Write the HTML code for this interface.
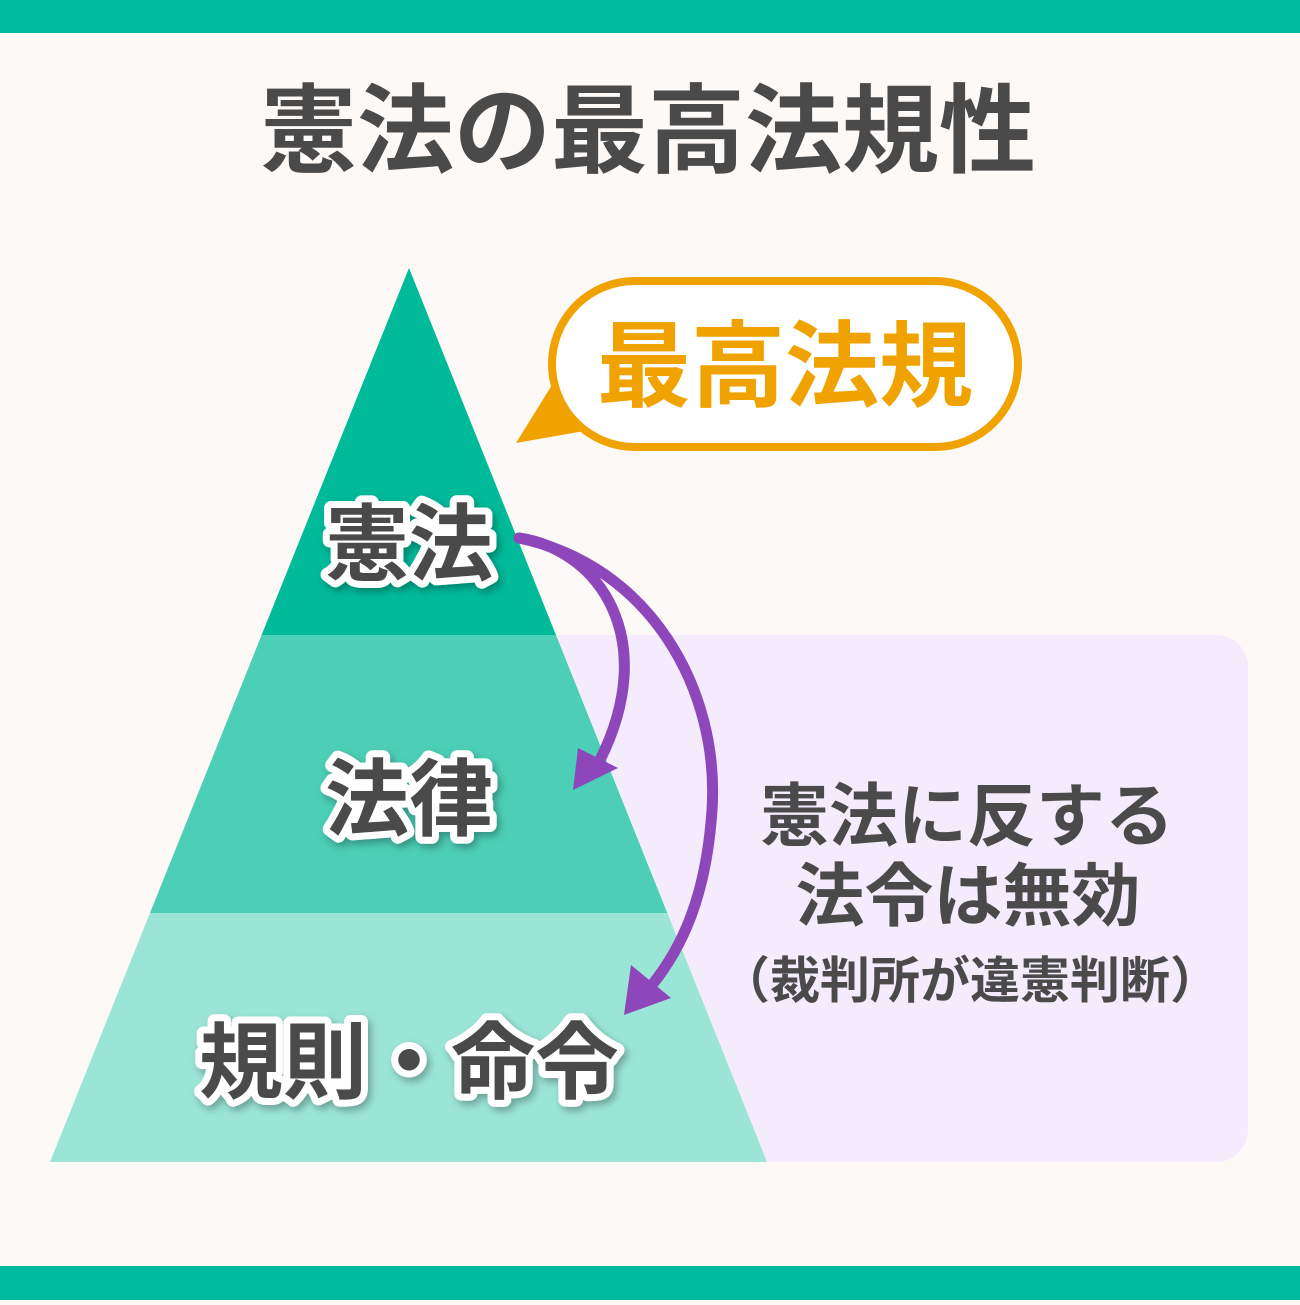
<!DOCTYPE html>
<html><head><meta charset="utf-8"><style>
html,body{margin:0;padding:0}
body{width:1300px;height:1300px;background:#fdf9f7;overflow:hidden}
svg text{font-family:"Liberation Sans","Noto Sans CJK JP",sans-serif;font-weight:bold}
</style></head><body>
<svg width="1300" height="1300" viewBox="0 0 1300 1300" xmlns="http://www.w3.org/2000/svg">
<defs>
<filter id="sh" x="-20%" y="-20%" width="140%" height="140%"><feDropShadow dx="3" dy="4" stdDeviation="4" flood-color="#000" flood-opacity="0.3"/></filter>
<clipPath id="tri"><polygon points="409,268 50,1162 767,1162"/></clipPath>
</defs>
<rect x="0" y="0" width="1300" height="33" fill="#00bc9c"/>
<rect x="0" y="1266" width="1300" height="34" fill="#00bc9c"/>
<text x="648" y="165" font-size="97" fill="#4a4a4a" text-anchor="middle">憲法の最高法規性</text>
<rect x="520" y="635" width="728" height="527" rx="32" fill="#f4ecfd"/>
<g clip-path="url(#tri)">
<rect x="0" y="260" width="800" height="375" fill="#00ba9a"/>
<rect x="0" y="635" width="800" height="278" fill="#4ccfb6"/>
<rect x="0" y="913" width="800" height="260" fill="#9be5d7"/>
</g>
<polygon points="516,443 552,385 590,430" fill="#f0a300"/>
<rect x="552" y="281" width="466" height="166" rx="83" fill="#fff" stroke="#f0a300" stroke-width="8"/>
<text x="785" y="399" font-size="94" fill="#f0a300" text-anchor="middle">最高法規</text>
<g font-size="84" text-anchor="middle" filter="url(#sh)">
<text x="409" y="574" fill="#4a4a4a" stroke="#fff" stroke-width="14" stroke-linejoin="round">憲法</text>
<text x="409" y="829" fill="#4a4a4a" stroke="#fff" stroke-width="14" stroke-linejoin="round">法律</text>
<text x="409" y="1092" fill="#4a4a4a" stroke="#fff" stroke-width="14" stroke-linejoin="round">規則・命令</text>
</g>
<g font-size="84" text-anchor="middle" fill="#4a4a4a">
<text x="409" y="574">憲法</text>
<text x="409" y="829">法律</text>
<text x="409" y="1092">規則・命令</text>
</g>
<g fill="none" stroke="#8e47bb" stroke-width="11" stroke-linecap="round">
<path d="M519,538 C600,550 660,640 600,760"/>
<path d="M519,538 C650,565 720,690 712,810 C706,900 680,950 652,985"/>
</g>
<polygon points="573,790 578,748 618,768" fill="#8e47bb"/>
<polygon points="624,1015 631,965 671,998" fill="#8e47bb"/>
<g text-anchor="middle" fill="#4a4a4a">
<text x="967" y="840" font-size="69">憲法に反する</text>
<text x="968" y="920" font-size="69">法令は無効</text>
<text x="970" y="998" font-size="50">（裁判所が違憲判断）</text>
</g>
</svg>
</body></html>
